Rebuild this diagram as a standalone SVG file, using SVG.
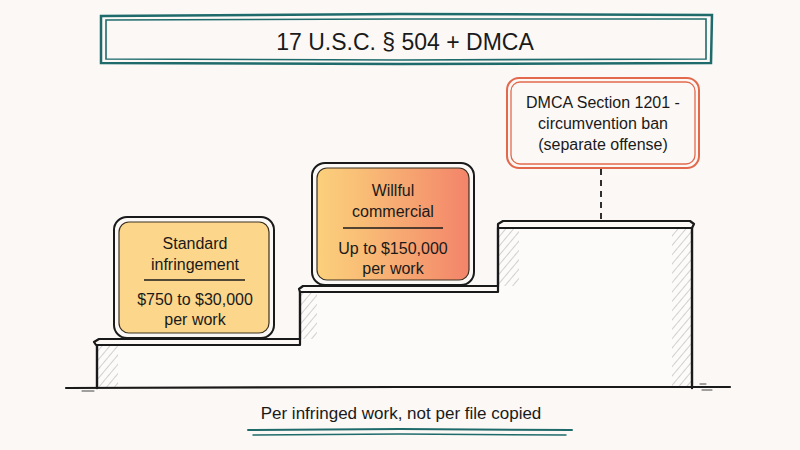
<svg xmlns="http://www.w3.org/2000/svg" width="800" height="450" viewBox="0 0 800 450">
<defs>
<style>
.t{font-family:"Liberation Sans","DejaVu Sans",sans-serif;fill:#1a1a1a;text-anchor:middle}
.ink{fill:none;stroke:#1a1a1a;stroke-linecap:round;stroke-linejoin:round}
.teal{fill:none;stroke:#1f6b6b;stroke-linecap:round}
.red{fill:none;stroke:#e3694d}
.hat{fill:url(#hatch)}
</style>
<pattern id="hatch" width="6" height="6" patternUnits="userSpaceOnUse" patternTransform="rotate(40)">
<line x1="0" y1="0" x2="0" y2="6" stroke="#8a8a8a" stroke-width="0.9"/>
</pattern>
<linearGradient id="g2" x1="0" y1="0" x2="1" y2="0">
<stop offset="0" stop-color="#fbd07c"/>
<stop offset="0.3" stop-color="#f9bd76"/>
<stop offset="1" stop-color="#f3846a"/>
</linearGradient>
</defs>
<rect width="800" height="450" fill="#fbf8f6"/>

<g id="title">
<path class="teal" stroke-width="2.5" d="M101 16 L400 14 L712 15 L711 63 L400 64 L101 63 Z"/>
<path class="teal" stroke-width="1.6" d="M106 20 L400 19 L706 19 L706 59 L400 60 L106 59 Z"/>
<text class="t" x="405" y="50" font-size="23">17 U.S.C. § 504 + DMCA</text>
</g>

<g id="stairs">
<path d="M97 388 V344 H300 V290 H498 V226 H692 V388 Z" fill="#fdfbfa"/>
<rect class="hat" x="98" y="346" width="20" height="41" opacity="0.85"/>
<rect class="hat" x="301" y="293" width="16" height="46" opacity="0.85"/>
<rect class="hat" x="499" y="228" width="20" height="58" opacity="0.85"/>
<rect class="hat" x="672" y="228" width="19" height="158" opacity="0.85"/>
<path class="ink" stroke-width="2.4" d="M97 388 V346 M300 339 V292 M498 286 V228 M692 228 V388"/>
<path class="ink" stroke-width="2.2" d="M96 345 L94 342 L99 339 L300 339 V345 H98 Z" fill="#fdfbfa"/>
<path class="ink" stroke-width="2.2" d="M300 292 L299 289 L303 286 L498 286 V292 H300 Z" fill="#fdfbfa"/>
<path class="ink" stroke-width="2.2" d="M498 228 L498 224 L503 221 L690 221 L694 224 L692 228 Z" fill="#fdfbfa"/>
<path class="ink" stroke-width="2.2" d="M66 388 L400 387 L730 387"/>
<path class="ink" stroke-width="0.8" stroke="#888" d="M82 391 L94 391 M700 384 L706 384 M702 390 L712 390"/>
</g>

<g id="box-standard">
<rect x="114" y="217" width="160" height="121" rx="13" fill="#ffffff" class="ink" stroke-width="2"/>
<rect x="119" y="222" width="150" height="111" rx="10" fill="#fcd68a" stroke="#3a3020" stroke-width="1.2"/>
<text class="t" x="195" y="249" font-size="16">Standard</text>
<text class="t" x="195" y="270" font-size="16">infringement</text>
<line x1="144" y1="280" x2="245" y2="280" stroke="#1a1a1a" stroke-width="1.5"/>
<text class="t" x="195" y="305" font-size="16">$750 to $30,000</text>
<text class="t" x="195" y="325" font-size="16">per work</text>
</g>

<g id="box-willful">
<rect x="312" y="163" width="162" height="122" rx="13" fill="#ffffff" class="ink" stroke-width="2"/>
<rect x="317" y="168" width="152" height="112" rx="10" fill="url(#g2)" stroke="#3a3020" stroke-width="1.2"/>
<text class="t" x="393" y="196" font-size="16">Willful</text>
<text class="t" x="393" y="217" font-size="16">commercial</text>
<line x1="343" y1="228" x2="443" y2="228" stroke="#1a1a1a" stroke-width="1.5"/>
<text class="t" x="393" y="254" font-size="16">Up to $150,000</text>
<text class="t" x="393" y="274" font-size="16">per work</text>
</g>

<g id="box-dmca">
<rect x="507" y="78" width="192" height="90" rx="12" fill="#ffffff" class="red" stroke-width="2"/>
<rect x="511" y="82" width="184" height="82" rx="9" fill="#ffffff" class="red" stroke-width="1.3"/>
<text class="t" x="603" y="108" font-size="16">DMCA Section 1201 -</text>
<text class="t" x="603" y="129" font-size="16">circumvention ban</text>
<text class="t" x="603" y="150" font-size="16">(separate offense)</text>
</g>

<g id="connectors">
<line x1="601" y1="169" x2="601" y2="221" stroke="#1a1a1a" stroke-width="1.8" stroke-dasharray="6 5"/>
</g>

<g id="caption">
<text class="t" x="401" y="419" font-size="17">Per infringed work, not per file copied</text>
<path class="teal" stroke-width="2" d="M248 430 L400 429 L572 430"/>
<path class="teal" stroke-width="1.5" d="M253 435 L400 434 L566 435"/>
</g>
</svg>
